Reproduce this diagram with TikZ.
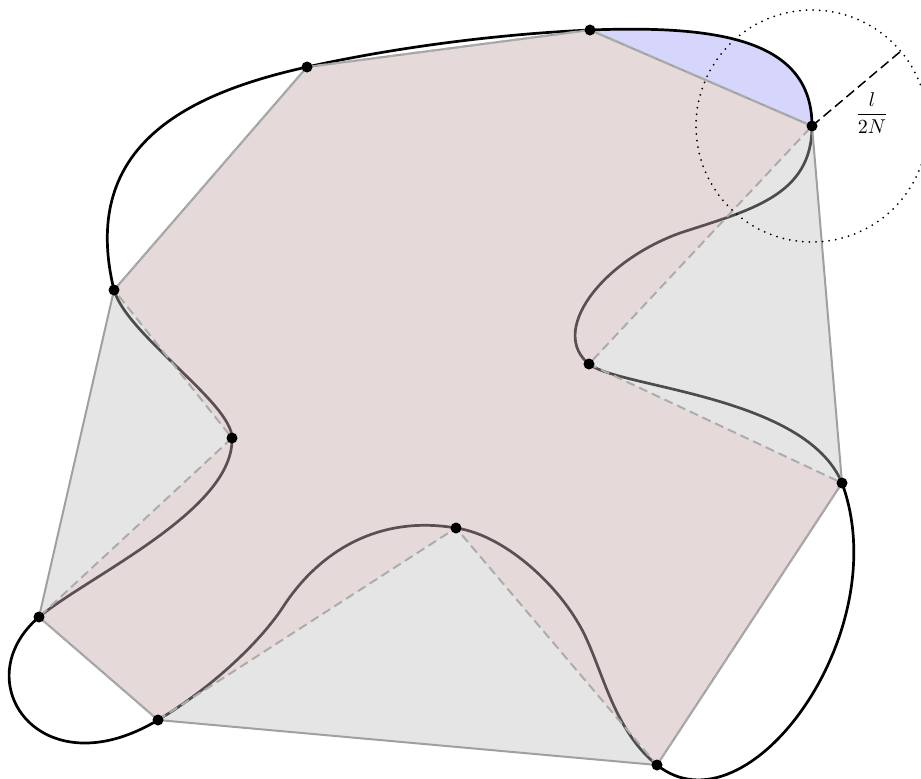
\documentclass[tikz,border=0pt]{standalone}
\usetikzlibrary{calc}
\definecolor{hullfill}{RGB}{190,190,190}
\definecolor{pinkfill}{RGB}{229,109,129}
\definecolor{bluefill}{RGB}{214,214,252}
\definecolor{hulledge}{RGB}{160,160,160}
\definecolor{dashedge}{RGB}{172,172,172}
\begin{document}
\begin{tikzpicture}[x=0.5pt,y=-0.5pt,
  curvestyle/.style={line width=1.35pt,black},
  hullstyle/.style={draw=hulledge,line width=1pt,line join=round},
  polystyle/.style={draw=dashedge,line width=1pt,dash pattern=on 4.5pt off 2.5pt},
  circstyle/.style={line width=1pt,line cap=round,dash pattern=on 0pt off 3.3pt},
  radstyle/.style={line width=0.75pt,dash pattern=on 5pt off 2.5pt},
  dotstyle/.style={fill=black}]
\useasboundingbox (0,0) rectangle (921,778);
\coordinate (P1) at (590,30);
\coordinate (P2) at (307,67);
\coordinate (P3) at (114,290);
\coordinate (P4) at (232,438);
\coordinate (P5) at (39,617);
\coordinate (P6) at (158,720);
\coordinate (P7) at (657,765);
\coordinate (P8) at (456,528);
\coordinate (P9) at (842,483);
\coordinate (P10) at (589,364);
\coordinate (P11) at (812,126);
\coordinate (Q1) at (680,233);
\coordinate (Q2) at (587,640);
\coordinate (Q3) at (283,607);
\coordinate (R) at (901,51);
% blue cap
\fill[bluefill] (P1) .. controls +(130,-5) and +(0,-86) .. (P11) -- cycle;
% smooth curve
\draw[curvestyle] (P1) .. controls +(130,-5) and +(0,-86) .. (P11)
  .. controls +(0,70) and +(70,-23) .. (Q1)
  .. controls +(-80,29) and +(-40,-32) .. (P10)
  .. controls +(30,24) and +(-37,-88) .. (P9)
  .. controls +(55,150) and +(90,72) .. (P7)
  .. controls +(-40,-32) and +(18,40) .. (Q2)
  .. controls +(-22,-50) and +(50,7) .. (P8)
  .. controls +(-76,-13) and +(37,-57) .. (Q3)
  .. controls +(-25,38) and +(50,-30) .. (P6)
  .. controls +(-118,71) and +(-75,64) .. (P5)
  .. controls +(51,-42) and +(2,72) .. (P4)
  .. controls +(0,-35) and +(13,45) .. (P3)
  .. controls +(-34,-140) and +(-127,28) .. (P2)
  .. controls +(90,-20) and +(-90,4) .. (P1);
% convex hull
\fill[hullfill,fill opacity=0.4] (P1) -- (P2) -- (P3) -- (P5) -- (P6) -- (P7) -- (P9) -- (P11) -- cycle;
% inner polygon
\fill[pinkfill,fill opacity=0.1] (P1) -- (P2) -- (P3) -- (P4) -- (P5) -- (P6) -- (P8) -- (P7) -- (P9) -- (P10) -- (P11) -- cycle;
\draw[hullstyle] (P1) -- (P2) -- (P3) -- (P5) -- (P6) -- (P7) -- (P9) -- (P11) -- cycle;
\draw[polystyle] (P1) -- (P2) -- (P3) -- (P4) -- (P5) -- (P6) -- (P8) -- (P7) -- (P9) -- (P10) -- (P11) -- cycle;
% circle of radius l/2N
\draw[circstyle] (P11) circle[radius=116];
\draw[radstyle] (P11) -- (R);
\node (lab) at (872,113) {$\displaystyle\frac{l}{2N}$};
% points
\foreach \p in {P1,P2,P3,P4,P5,P6,P7,P8,P9,P10,P11}
  \fill[dotstyle] (\p) circle[radius=5.5];
\end{tikzpicture}
\end{document}
